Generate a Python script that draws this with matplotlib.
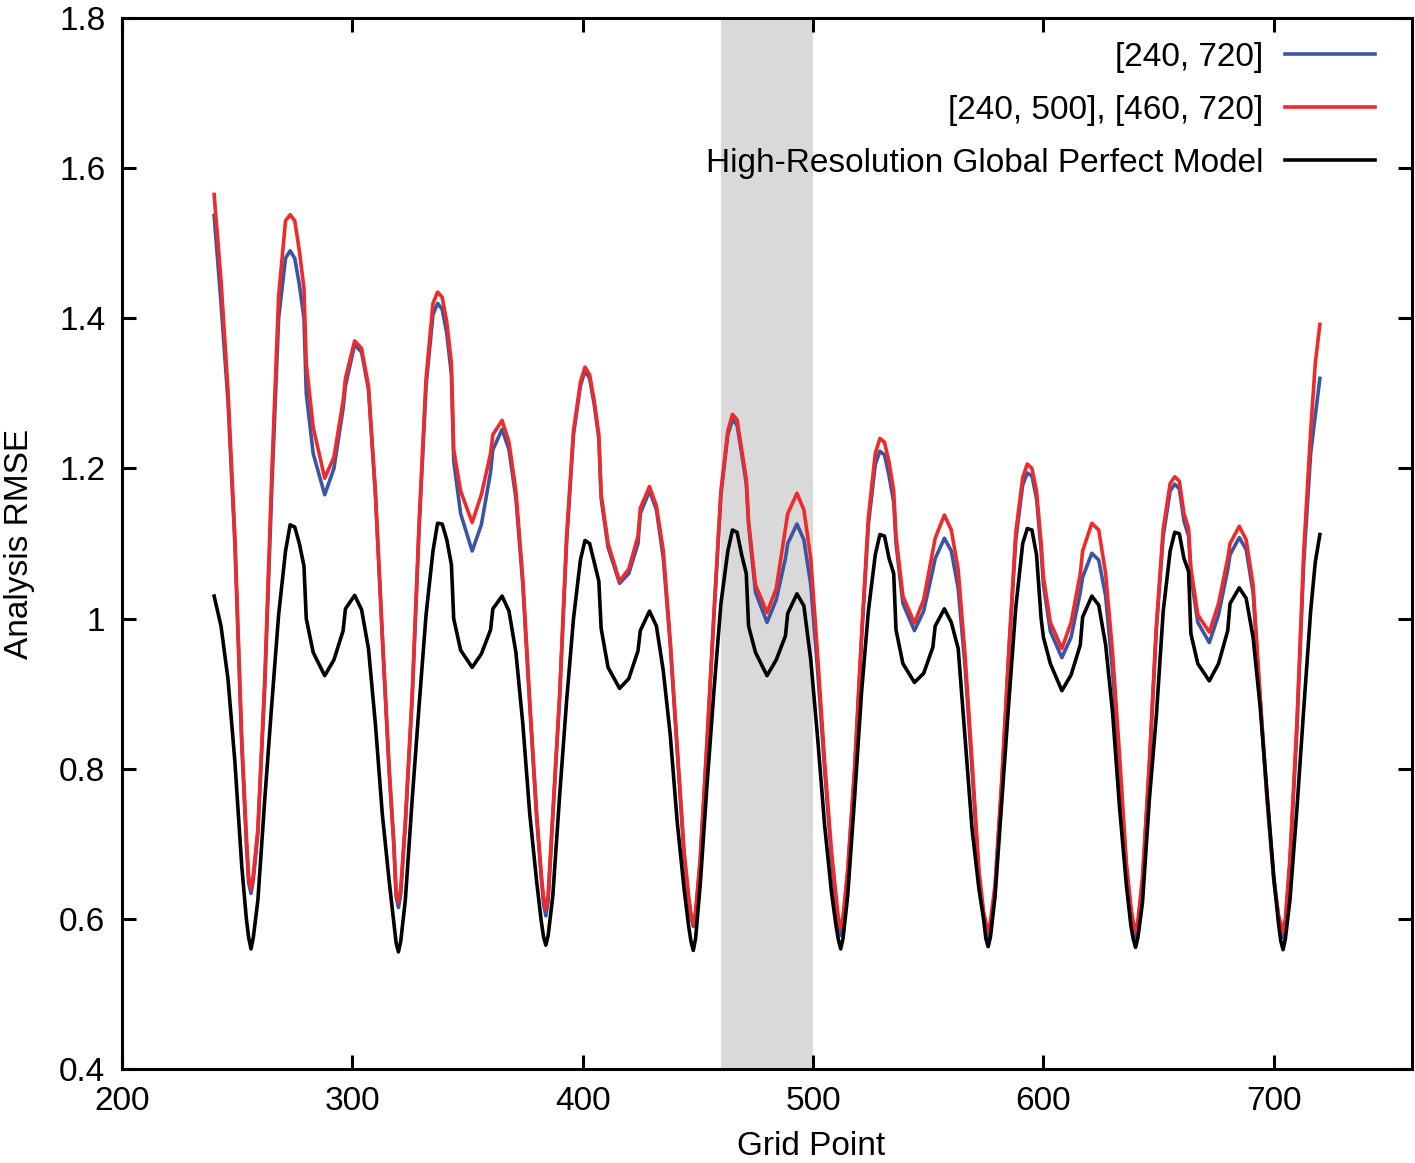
import numpy as np
import matplotlib
matplotlib.use("Agg")
import matplotlib.pyplot as plt
from matplotlib.ticker import FuncFormatter

plt.rcParams['font.family'] = ['Liberation Sans', 'DejaVu Sans']

# grid points (shared by all three curves)
grid = [
    240, 243, 246, 249, 252, 254, 255,
    256, 257, 259, 262, 265, 268, 271, 273, 275, 277, 279, 280, 283, 288, 292, 296, 297, 301, 304, 307, 310, 313, 316, 318, 319,
    320, 321, 323, 326, 329, 332, 335, 337, 339, 341, 343, 344, 347, 352, 356, 360, 361, 365, 368, 371, 374, 377, 380, 382, 383,
    384, 385, 387, 390, 393, 396, 399, 401, 403, 405, 407, 408, 411, 416, 420, 424, 425, 429, 432, 435, 438, 441, 444, 446, 447,
    448, 449, 451, 454, 457, 460, 463, 465, 467, 469, 471, 472, 475, 480, 484, 488, 489, 493, 496, 499, 502, 505, 508, 510, 511,
    512, 513, 515, 518, 521, 524, 527, 529, 531, 533, 535, 536, 539, 544, 548, 552, 553, 557, 560, 563, 566, 569, 572, 574, 575,
    576, 577, 579, 582, 585, 588, 591, 593, 595, 597, 599, 600, 603, 608, 612, 616, 617, 621, 624, 627, 630, 633, 636, 638, 639,
    640, 641, 643, 646, 649, 652, 655, 657, 659, 661, 663, 664, 667, 672, 676, 680, 681, 685, 688, 691, 694, 697, 700, 702, 703,
    704, 705, 707, 710, 713, 716, 718, 720,
]

# [240, 720]
rmse_single = [
    1.537, 1.42, 1.29, 1.10, 0.83, 0.70, 0.648,
    0.634, 0.652, 0.715, 0.91, 1.17, 1.40, 1.48, 1.49, 1.48, 1.445, 1.40, 1.30, 1.22, 1.165, 1.20, 1.28, 1.31, 1.365, 1.355, 1.305, 1.165, 0.975, 0.795, 0.70, 0.63,
    0.615, 0.633, 0.725, 0.895, 1.12, 1.31, 1.405, 1.42, 1.412, 1.38, 1.325, 1.21, 1.14, 1.09, 1.125, 1.195, 1.225, 1.252, 1.225, 1.16, 1.045, 0.885, 0.735, 0.655, 0.62,
    0.604, 0.624, 0.735, 0.895, 1.10, 1.245, 1.31, 1.33, 1.32, 1.285, 1.24, 1.16, 1.095, 1.047, 1.06, 1.10, 1.14, 1.17, 1.145, 1.08, 0.965, 0.825, 0.685, 0.625, 0.603,
    0.59, 0.607, 0.675, 0.835, 1.005, 1.165, 1.245, 1.265, 1.258, 1.22, 1.18, 1.125, 1.035, 0.995, 1.025, 1.08, 1.10, 1.126, 1.105, 1.045, 0.93, 0.80, 0.68, 0.62, 0.59,
    0.578, 0.594, 0.66, 0.795, 0.97, 1.125, 1.205, 1.223, 1.218, 1.19, 1.155, 1.10, 1.02, 0.984, 1.01, 1.065, 1.08, 1.107, 1.09, 1.04, 0.935, 0.80, 0.655, 0.605, 0.588,
    0.575, 0.59, 0.64, 0.785, 0.955, 1.105, 1.178, 1.194, 1.19, 1.16, 1.09, 1.045, 0.983, 0.948, 0.975, 1.035, 1.055, 1.087, 1.078, 1.03, 0.93, 0.805, 0.665, 0.61, 0.588,
    0.575, 0.591, 0.65, 0.805, 0.985, 1.11, 1.17, 1.179, 1.173, 1.13, 1.11, 1.058, 0.995, 0.968, 1.005, 1.065, 1.085, 1.108, 1.092, 1.035, 0.895, 0.76, 0.65, 0.605, 0.588,
    0.575, 0.592, 0.675, 0.85, 1.075, 1.22, 1.27, 1.32,
]

# [240, 500], [460, 720]
rmse_split = [
    1.565, 1.45, 1.305, 1.11, 0.84, 0.71, 0.655,
    0.64, 0.658, 0.72, 0.92, 1.19, 1.43, 1.53, 1.538, 1.53, 1.49, 1.44, 1.34, 1.255, 1.187, 1.215, 1.29, 1.32, 1.37, 1.36, 1.31, 1.17, 0.98, 0.80, 0.70, 0.637,
    0.622, 0.64, 0.73, 0.90, 1.13, 1.32, 1.42, 1.435, 1.428, 1.395, 1.34, 1.225, 1.17, 1.128, 1.165, 1.22, 1.245, 1.264, 1.235, 1.17, 1.053, 0.89, 0.74, 0.66, 0.628,
    0.612, 0.632, 0.74, 0.90, 1.11, 1.25, 1.315, 1.335, 1.325, 1.29, 1.245, 1.166, 1.10, 1.05, 1.066, 1.11, 1.147, 1.176, 1.15, 1.09, 0.97, 0.83, 0.69, 0.63, 0.607,
    0.592, 0.61, 0.68, 0.84, 1.01, 1.17, 1.25, 1.272, 1.265, 1.225, 1.186, 1.13, 1.045, 1.008, 1.04, 1.12, 1.14, 1.167, 1.145, 1.08, 0.95, 0.81, 0.69, 0.63, 0.60,
    0.588, 0.603, 0.665, 0.80, 0.975, 1.135, 1.22, 1.24, 1.235, 1.208, 1.17, 1.11, 1.03, 0.994, 1.025, 1.09, 1.107, 1.138, 1.118, 1.065, 0.95, 0.81, 0.665, 0.61, 0.595,
    0.582, 0.597, 0.645, 0.79, 0.96, 1.115, 1.188, 1.206, 1.20, 1.17, 1.10, 1.055, 0.995, 0.96, 0.995, 1.06, 1.09, 1.127, 1.118, 1.06, 0.955, 0.82, 0.675, 0.615, 0.595,
    0.582, 0.598, 0.655, 0.81, 0.99, 1.12, 1.18, 1.189, 1.183, 1.14, 1.12, 1.067, 1.005, 0.982, 1.02, 1.08, 1.10, 1.123, 1.105, 1.045, 0.90, 0.765, 0.655, 0.605, 0.595,
    0.582, 0.60, 0.68, 0.86, 1.09, 1.25, 1.34, 1.392,
]

# high-resolution global perfect model
rmse_perfect = [
    1.03, 0.99, 0.92, 0.81, 0.67, 0.60, 0.575,
    0.56, 0.575, 0.625, 0.76, 0.885, 1.005, 1.09, 1.125, 1.122, 1.10, 1.07, 1.0, 0.955, 0.924, 0.945, 0.984, 1.013, 1.031, 1.012, 0.96, 0.86, 0.74, 0.65, 0.595, 0.568,
    0.556, 0.57, 0.625, 0.76, 0.885, 1.005, 1.09, 1.127, 1.126, 1.105, 1.072, 1.0, 0.958, 0.935, 0.953, 0.985, 1.013, 1.03, 1.01, 0.955, 0.86, 0.74, 0.65, 0.597, 0.576,
    0.565, 0.578, 0.63, 0.765, 0.89, 1.0, 1.078, 1.104, 1.10, 1.075, 1.05, 0.987, 0.935, 0.907, 0.92, 0.957, 0.984, 1.01, 0.99, 0.93, 0.845, 0.73, 0.64, 0.59, 0.57,
    0.558, 0.574, 0.645, 0.78, 0.905, 1.02, 1.09, 1.118, 1.115, 1.085, 1.06, 0.99, 0.955, 0.924, 0.945, 0.977, 1.007, 1.033, 1.017, 0.945, 0.84, 0.725, 0.635, 0.59, 0.572,
    0.56, 0.574, 0.63, 0.76, 0.90, 1.01, 1.085, 1.112, 1.11, 1.08, 1.06, 0.985, 0.94, 0.915, 0.927, 0.962, 0.99, 1.013, 0.995, 0.96, 0.84, 0.72, 0.64, 0.60, 0.574,
    0.563, 0.576, 0.63, 0.76, 0.89, 1.015, 1.10, 1.12, 1.118, 1.085, 1.0, 0.975, 0.94, 0.904, 0.925, 0.965, 1.002, 1.03, 1.018, 0.965, 0.875, 0.75, 0.645, 0.59, 0.573,
    0.562, 0.575, 0.622, 0.76, 0.87, 1.01, 1.09, 1.115, 1.113, 1.08, 1.063, 0.98, 0.94, 0.917, 0.94, 0.984, 1.02, 1.041, 1.027, 0.975, 0.885, 0.77, 0.655, 0.595, 0.571,
    0.559, 0.573, 0.625, 0.745, 0.88, 1.01, 1.075, 1.112,
]

overlap = (460, 500)
labels = ['[240, 720]', '[240, 500], [460, 720]', 'High-Resolution Global Perfect Model']
colors = ['#3b55a5', '#ee2a2b', '#000000']

fig = plt.figure(figsize=(14.15, 11.63), dpi=100)
ax = fig.add_axes([0.0862, 0.0808, 0.9117, 0.9037])

ax.axvspan(overlap[0], overlap[1], color='#d9d9d9', lw=0, zorder=0)
for y, lab, c in zip([rmse_single, rmse_split, rmse_perfect], labels, colors):
    ax.plot(grid, y, color=c, lw=2.6, label=lab, zorder=2)

ax.set_xlim(200, 760)
ax.set_ylim(0.4, 1.8)
ax.set_xticks([200, 300, 400, 500, 600, 700])
ax.set_yticks([0.4, 0.6, 0.8, 1.0, 1.2, 1.4, 1.6, 1.8])
ax.yaxis.set_major_formatter(FuncFormatter(lambda v, p: '%g' % round(v, 2)))
ax.tick_params(direction='in', length=10, width=2.2, labelsize=24,
               top=True, right=True, pad=12)
for s in ax.spines.values():
    s.set_linewidth(2.2)

ax.set_xlabel('Grid Point', fontsize=24)
ax.xaxis.set_label_coords(0.534, -0.059)
ax.set_ylabel('Analysis RMSE', fontsize=24, labelpad=17)

leg = ax.legend(loc='upper right', frameon=False, fontsize=24, markerfirst=False,
                handlelength=2.7, handletextpad=0.65, labelspacing=0.66,
                borderaxespad=0.4, bbox_to_anchor=(0.992, 1.003))

fig.savefig('out.png', dpi=100)
